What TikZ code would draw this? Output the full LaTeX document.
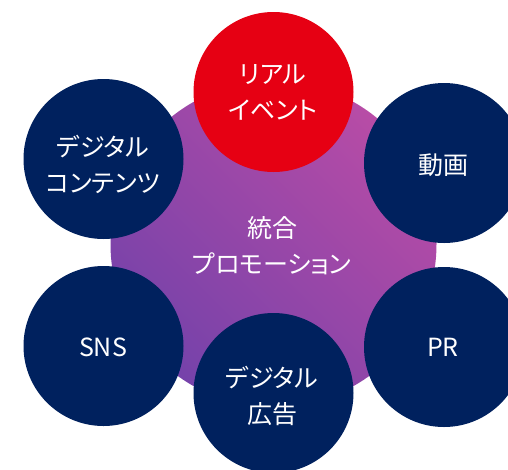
\documentclass[tikz,border=0pt]{standalone}
\usepackage{fontspec}
\setmainfont{Noto Sans CJK JP}[RawFeature=+palt]
\definecolor{navy}{HTML}{00215E}
\definecolor{redc}{HTML}{E60013}
\definecolor{gbot}{HTML}{7542AA}
\definecolor{gmid}{HTML}{8A55A9}
\definecolor{gtop}{HTML}{B84CA6}
\begin{document}
\begin{tikzpicture}[x=1pt,y=-1pt,
  outer/.style={circle,fill=navy,minimum size=160pt,inner sep=0pt},
  lbl/.style={text=white,font=\fontsize{25}{36}\selectfont,align=center,inner sep=0pt}]
\useasboundingbox (0,0) rectangle (508,469);
\clip (0,0) rectangle (508,469);
\fill[white] (0,0) rectangle (508,469);
\shade[bottom color=gbot,middle color=gmid,top color=gtop,shading angle=-45] (273.5,244) circle[radius=163pt];
\node (core) at (273.5,244) {};
\node[outer] (dc) at (103.5,159) {};
\node[outer] (sns) at (103.5,346) {};
\node[outer] (ad) at (273.5,393) {};
\node[outer] (pr) at (444,347) {};
\node[outer] (mv) at (444,163) {};
\node[outer,fill=redc] (ev) at (273.5,92) {};
\node[lbl] (tcore) at (272,246) {統合\\プロモーション};
\node[lbl] (tev) at (273,92.5) {リアル\\イベント};
\node[lbl] (tdc) at (103,164.5) {デジタル\\コンテンツ};
\node[lbl] (tmv) at (443.5,165) {動画};
\node[lbl] (tsns) at (103,347) {SNS};
\node[lbl] (tpr) at (443,347) {PR};
\node[lbl] (tad) at (272,396) {デジタル\\広告};
\end{tikzpicture}
\end{document}
